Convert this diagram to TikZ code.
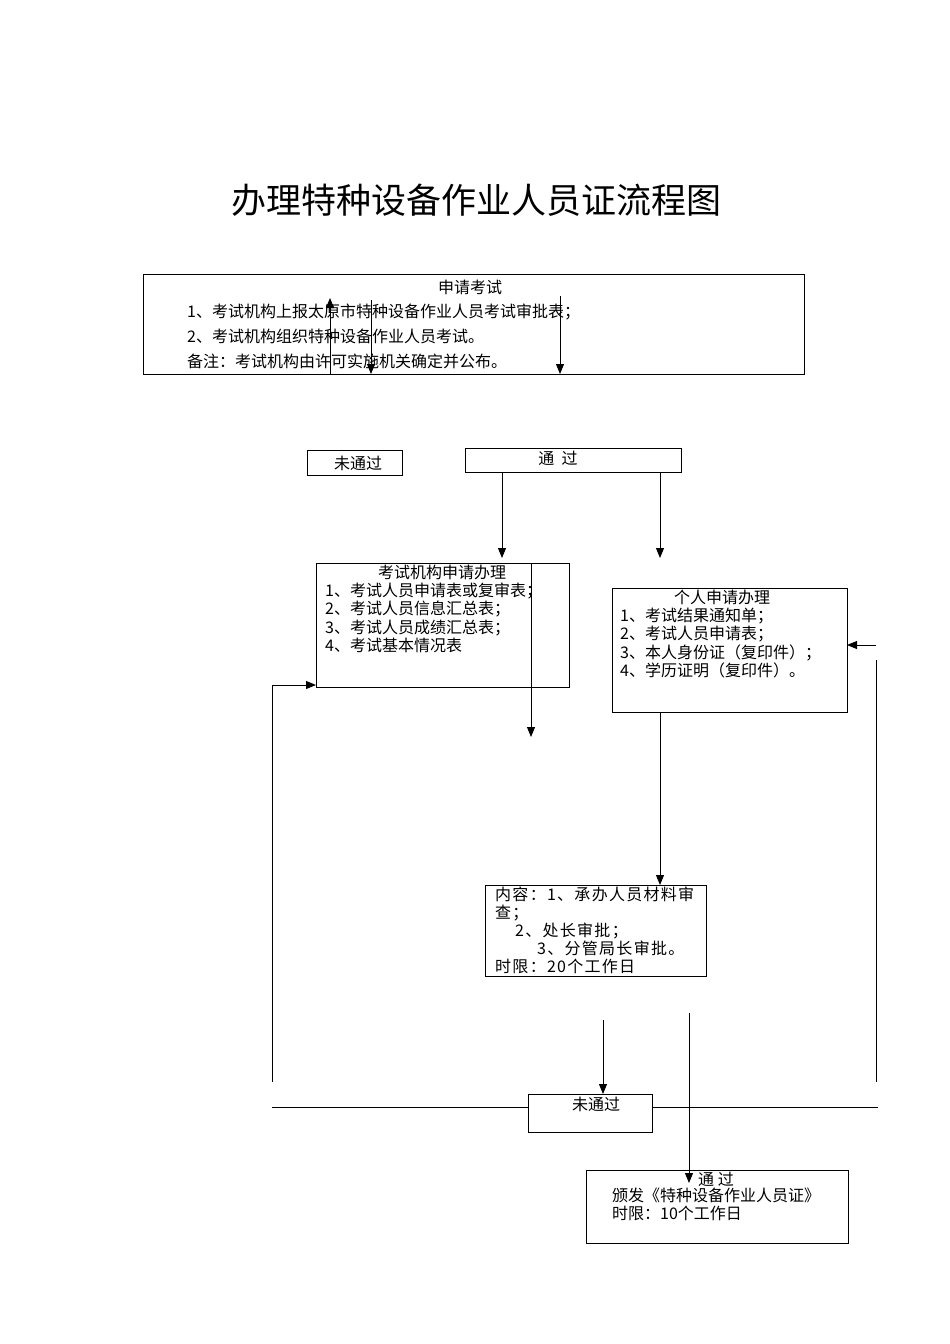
\documentclass[tikz,border=0pt]{standalone}
\usepackage{fontspec}
\setmainfont{Noto Sans CJK SC}
\usetikzlibrary{arrows.meta}
\tikzset{
  box/.style={draw, line width=0.8pt, inner sep=0pt, outer sep=0pt, anchor=north west},
  txt/.style={inner sep=0pt, anchor=base west, font=\fontsize{16}{19}\selectfont},
  rtxt/.style={inner sep=0pt, anchor=base west, font=\fontsize{16}{19}\selectfont\addfontfeature{LetterSpace=8}},
  ctxt/.style={inner sep=0pt, anchor=base, font=\fontsize{16}{19}\selectfont},
  arr/.style={-{Triangle[length=10pt,width=8pt]}, line width=0.9pt},
  ln/.style={line width=0.9pt}
}
\begin{document}
\begin{tikzpicture}[x=1pt,y=-1pt]
\useasboundingbox (0,0) rectangle (950,1344);
% title
\node[inner sep=0pt, anchor=base, font=\fontsize{35}{40}\selectfont] (title) at (476,213) {办理特种设备作业人员证流程图};
% box 1
\node[box, minimum width=661pt, minimum height=100pt] (b1) at (143,274) {};
\node[ctxt] (b1t) at (470,293) {申请考试};
\node[txt] (b1a) at (187,317) {1、考试机构上报太原市特种设备作业人员考试审批表；};
\node[txt] (b1b) at (187,342) {2、考试机构组织特种设备作业人员考试。};
\node[txt] (b1c) at (187,367) {备注：考试机构由许可实施机关确定并公布。};
% fail / pass
\node[box, minimum width=95pt, minimum height=25pt] (fail1) at (307,450) {};
\node[ctxt] (fail1t) at (358,469) {未通过};
\node[box, minimum width=216pt, minimum height=24pt] (pass) at (465,448) {};
\node[ctxt] (passt) at (558,464) {通\ \ 过};
% org box
\node[box, minimum width=253pt, minimum height=124pt] (org) at (316,563) {};
\node[ctxt] (orgt) at (442,578) {考试机构申请办理};
\node[txt] (orga) at (325,596) {1、考试人员申请表或复审表；};
\node[txt] (orgb) at (325,614) {2、考试人员信息汇总表；};
\node[txt] (orgc) at (325,633) {3、考试人员成绩汇总表；};
\node[txt] (orgd) at (325,651) {4、考试基本情况表};
% person box
\node[box, minimum width=235pt, minimum height=124pt] (person) at (612,588) {};
\node[ctxt] (persont) at (722,603) {个人申请办理};
\node[txt] (persona) at (620,621) {1、考试结果通知单；};
\node[txt] (personb) at (620,639) {2、考试人员申请表；};
\node[txt] (personc) at (620,658) {3、本人身份证（复印件）；};
\node[txt] (persond) at (620,676) {4、学历证明（复印件）。};
% review box
\node[box, minimum width=221pt, minimum height=91pt] (review) at (485,885) {};
\node[rtxt] (rva) at (495,900) {内容：1、承办人员材料审};
\node[rtxt] (rvb) at (495,918) {查；};
\node[rtxt] (rvc) at (515,936) {2、处长审批；};
\node[rtxt] (rvd) at (537,954) {3、分管局长审批。};
\node[rtxt] (rve) at (495,972) {时限：20个工作日};
% fail 2
\node[box, minimum width=124pt, minimum height=38pt] (fail2) at (528,1094) {};
\node[ctxt] (fail2t) at (596,1110) {未通过};
% issue box
\node[box, minimum width=262pt, minimum height=73pt] (issue) at (586,1170) {};
\node[ctxt] (issuet) at (716,1185) {通\ 过};
\node[txt] (issuea) at (612,1201) {颁发《特种设备作业人员证》};
\node[txt] (issueb) at (612,1219) {时限：10个工作日};
% coordinates
\coordinate (u1) at (330,298);
\coordinate (d1) at (371,300);
\coordinate (d2) at (560,296);
\coordinate (pa) at (502,558);
\coordinate (pb) at (660,558);
\coordinate (e1) at (531,737);
\coordinate (r1) at (876,645);
\coordinate (r2) at (876,660);
\coordinate (r3) at (876,1082);
\coordinate (l1) at (272,1082);
\coordinate (l2) at (272,685);
\coordinate (f1) at (603,1020);
\coordinate (h1) at (272,1107);
\coordinate (h2) at (878,1107);
\coordinate (g1) at (689,1013);
\coordinate (g2) at (689,1183);
% connectors
\draw[arr] (b1.south -| u1) -- (u1);
\draw[arr] (d1) -- (d1 |- b1.south);
\draw[arr] (d2) -- (d2 |- b1.south);
\draw[arr] (pass.south -| pa) -- (pa);
\draw[arr] (pass.south -| pb) -- (pb);
\draw[arr] (org.north -| e1) -- (e1);
\draw[arr] (r1) -- (r1 -| person.east);
\draw[ln] (r2) -- (r3);
\draw[arr] (person.south -| pb) -- (pb |- review.north);
\draw[arr] (l1) -- (l2) -- (l2 -| org.west);
\draw[arr] (f1) -- (f1 |- fail2.north);
\draw[ln] (h1) -- (h1 -| fail2.west);
\draw[ln] (fail2.east |- h2) -- (h2);
\draw[arr] (g1) -- (g2);
\end{tikzpicture}
\end{document}
